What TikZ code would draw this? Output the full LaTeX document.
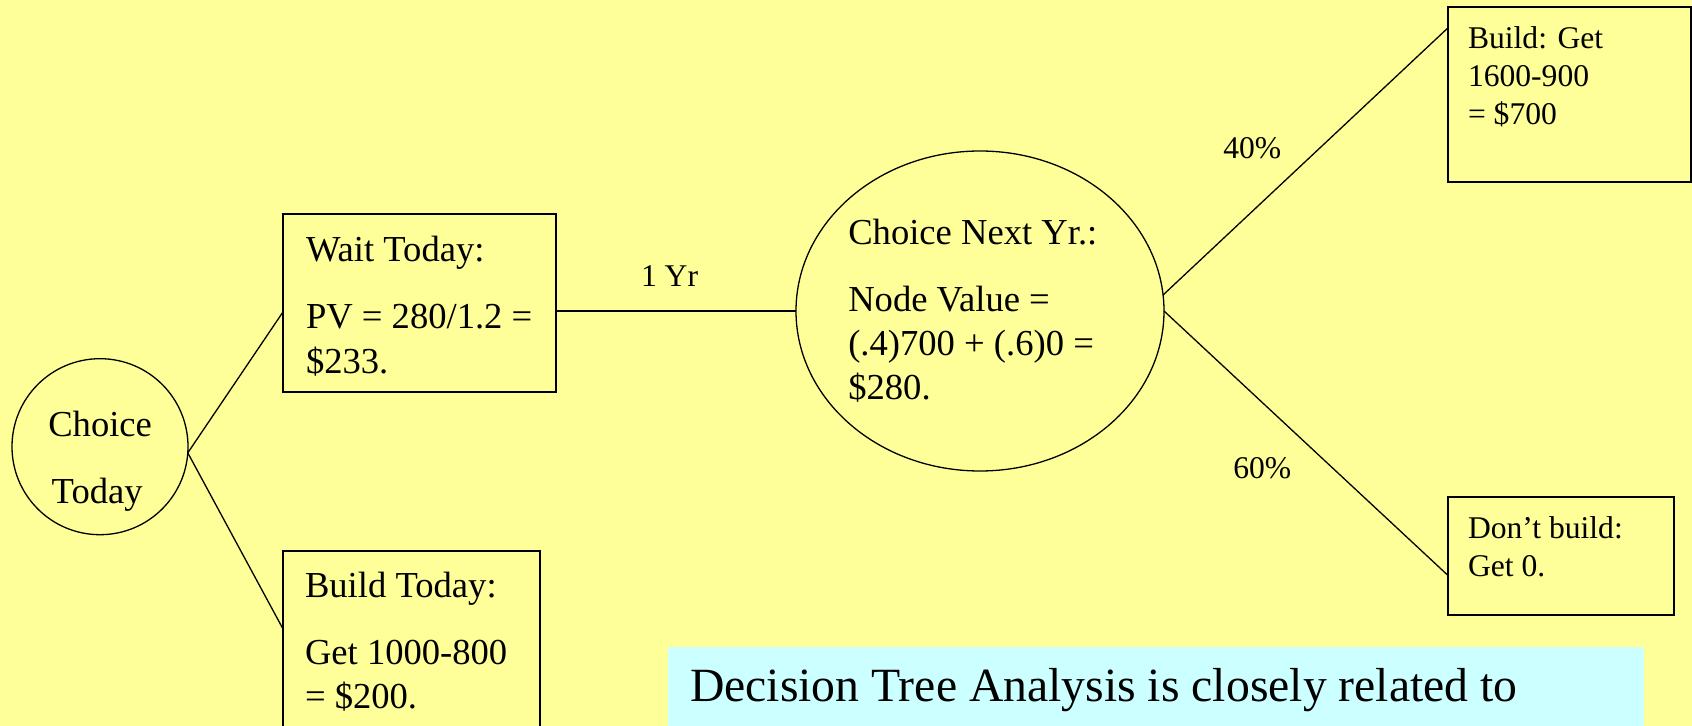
\documentclass[tikz,border=0pt]{standalone}
\usepackage{fontspec}
\setmainfont{Liberation Serif}
\usetikzlibrary{shapes.geometric}
\definecolor{bgyellow}{HTML}{FFFF99}
\definecolor{notecyan}{HTML}{CCFFFF}
\begin{document}
\begin{tikzpicture}[x=0.5pt,y=-0.5pt,
  midtxt/.style={anchor=base west,inner sep=0pt,outer sep=0pt,font=\fontsize{18.3pt}{22pt}\selectfont},
  smalltxt/.style={anchor=base west,inner sep=0pt,outer sep=0pt,font=\fontsize{15.8pt}{19pt}\selectfont},
  bigtxt/.style={anchor=base west,inner sep=0pt,outer sep=0pt,font=\fontsize{23.85pt}{28pt}\selectfont},
  conn/.style={line width=0.65pt},
  boxed/.style={draw,line width=1pt,inner sep=0pt,outer sep=0pt,anchor=north west},
  roundnode/.style={draw,line width=0.65pt,inner sep=0pt,outer sep=0pt}]
\fill[bgyellow] (0,0) rectangle (1692,726);
\useasboundingbox (0,0) rectangle (1692,726);
\clip (0,0) rectangle (1692,726);

% shapes
\node[roundnode,circle,minimum size=88pt] (c0) at (100,446.7) {};
\node[boxed,minimum width=136.35pt,minimum height=88.85pt] (wait) at (283.3,214.3) {};
\node[boxed,minimum width=128.35pt,minimum height=95pt] (bt) at (283.3,551) {};
\node[roundnode,ellipse,minimum width=184pt,minimum height=160pt] (c1) at (980,311) {};
\node[boxed,minimum width=121.75pt,minimum height=87.9pt] (build) at (1447.5,6.7) {};
\node[boxed,minimum width=113.25pt,minimum height=58.85pt] (dont) at (1447.5,497.3) {};
\node[fill=notecyan,inner sep=0pt,outer sep=0pt,anchor=north west,minimum width=487.8pt,minimum height=45pt] (note) at (668,647) {};

% connectors
\draw[conn] (c0.-4) -- ([yshift=-48.6pt]wait.north west);
\draw[conn] (c0.-4) -- ([yshift=-39.25pt]bt.north west);
\draw[conn] ([yshift=-48.35pt]wait.north east) -- (c1.west);
\draw[conn] (c1.5) -- ([yshift=-10.8pt]build.north west);
\draw[conn] (c1.-0.5) -- ([yshift=-38.85pt]dont.north west);

% texts
\node[midtxt] (t1) at (48.3,436.7) {Choice};
\node[midtxt] (t2) at (51.7,504) {Today};
\node[midtxt] (t3) at (306,261.7) {Wait Today:};
\node[midtxt] (t4) at (306,328.3) {PV = 280/1.2 =};
\node[midtxt] (t5) at (306,373.3) {\$233.};
\node[midtxt] (t6) at (305,597.7) {Build Today:};
\node[midtxt] (t7) at (305,664.3) {Get 1000-800};
\node[midtxt] (t8) at (305,708.3) {= \$200.};
\node[midtxt] (t9) at (848.3,245) {Choice Next Yr.:};
\node[midtxt] (t10) at (848.3,311.7) {Node Value =};
\node[midtxt] (t11) at (848.3,356) {(.4)700 + (.6)0 =};
\node[midtxt] (t12) at (848.3,400) {\$280.};
\node[smalltxt] (l1) at (641,286.7) {1 Yr};
\node[smalltxt] (l2) at (1223.3,159) {40\%};
\node[smalltxt] (l3) at (1233.3,479) {60\%};
\node[smalltxt] (t13) at (1468,48.3) {Build: Get};
\node[smalltxt] (t14) at (1468,86.7) {1600-900};
\node[smalltxt] (t15) at (1468,125) {= \$700};
\node[smalltxt] (t16) at (1468,538.3) {Don’t build:};
\node[smalltxt] (t17) at (1468,576.7) {Get 0.};
\node[bigtxt] (t18) at (690,701.7) {Decision Tree Analysis is closely related to};
\end{tikzpicture}
\end{document}
